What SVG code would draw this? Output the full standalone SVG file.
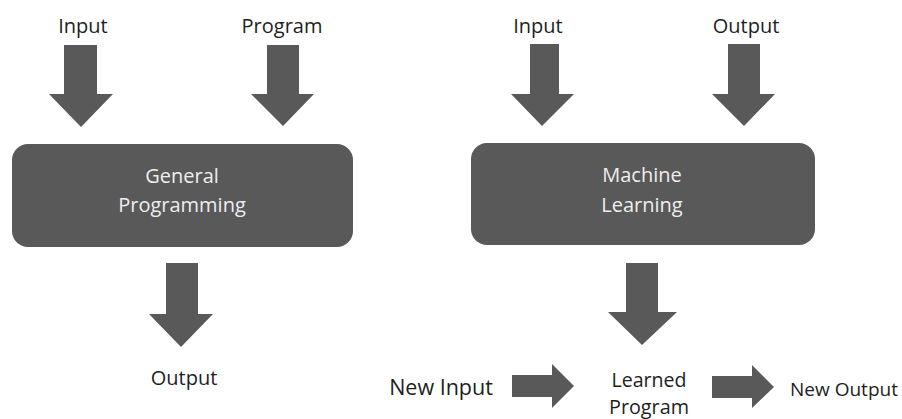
<svg xmlns="http://www.w3.org/2000/svg" width="902" height="419" viewBox="0 0 902 419">
<style>
.lbl{font-family:"Open Sans","Noto Sans",sans-serif;font-size:20px;fill:#1e1e1e;text-anchor:middle}
.box{fill:#595959}
.btx{font-family:"Open Sans","Noto Sans",sans-serif;font-size:20px;fill:#eeeeee;text-anchor:middle}
.arr{fill:#595959}
</style>
<rect width="902" height="419" fill="#ffffff"/>
<g id="lbl-input-1"><text class="lbl" x="83" y="33">Input</text></g>
<g id="lbl-program"><text class="lbl" x="282" y="33">Program</text></g>
<g id="node-general"><rect class="box" x="12" y="144" width="341" height="103" rx="16"/><text class="btx" x="182" y="183">General</text><text class="btx" x="182" y="212">Programming</text></g>
<g id="lbl-output-1"><text class="lbl" x="184" y="385">Output</text></g>
<g id="lbl-input-2"><text class="lbl" x="538" y="33">Input</text></g>
<g id="lbl-output-2"><text class="lbl" x="746" y="33">Output</text></g>
<g id="node-ml"><rect class="box" x="471" y="143" width="344" height="102" rx="16"/><text class="btx" x="642" y="182">Machine</text><text class="btx" x="642" y="212">Learning</text></g>
<g id="lbl-newinput"><text class="lbl" x="441" y="395" style="font-size:21.5px">New Input</text></g>
<g id="node-learned"><text class="lbl" x="649" y="387" style="font-size:19.6px">Learned</text><text class="lbl" x="649" y="414" style="font-size:19.8px">Program</text></g>
<g id="lbl-newoutput"><text class="lbl" x="844" y="396" style="font-size:19px">New Output</text></g>
<g id="connectors">
<polygon class="arr" points="64,45 97,45 97,94 113,94 81,127 49,94 64,94"/>
<polygon class="arr" points="267,45 299,45 299,94 314,94 283,126 251,94 267,94"/>
<polygon class="arr" points="166,263 198,263 198,314 213,314 181,347 149,314 166,314"/>
<polygon class="arr" points="530,44 559,44 559,94 574,94 542,126 511,94 530,94"/>
<polygon class="arr" points="728,44 760,44 760,94 775,94 744,126 712,94 728,94"/>
<polygon class="arr" points="626,263 658,263 658,312 677,312 642,345 608,312 626,312"/>
<polygon class="arr" points="512,375 552,375 552,364 574,386 552,408 552,397 512,397"/>
<polygon class="arr" points="712,376 752,376 752,365 774,387 752,408 752,398 712,398"/>
</g>
</svg>
